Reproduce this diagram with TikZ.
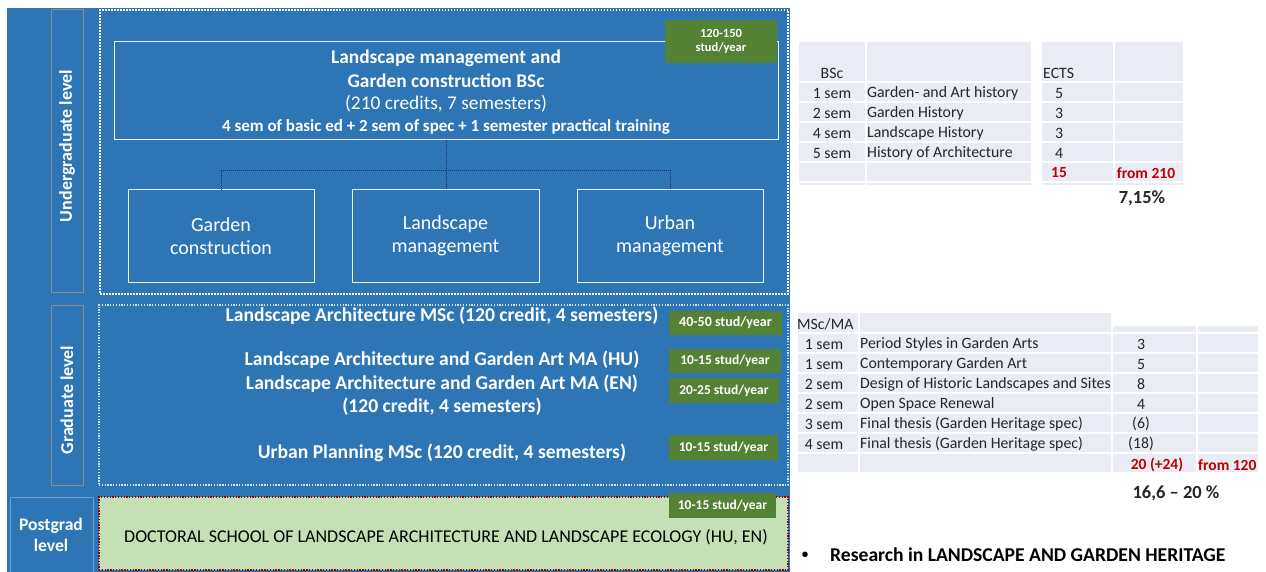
\documentclass[tikz,border=0pt]{standalone}
\usepackage{fontspec}
\setmainfont{Carlito}
\usetikzlibrary{fit}
\definecolor{bgblue}{RGB}{46,117,182}
\definecolor{taggreen}{RGB}{84,130,53}
\definecolor{docgreen}{RGB}{197,224,180}
\definecolor{docred}{RGB}{192,0,0}
\definecolor{cellfill}{RGB}{233,236,244}
\definecolor{tabtext}{RGB}{38,38,38}
\definecolor{redtext}{RGB}{192,0,0}
\definecolor{lvlgray}{RGB}{140,140,140}
\definecolor{linkblue}{RGB}{31,45,80}
\newcommand{\fs}[1]{\fontsize{#1}{#1}\selectfont}
\tikzset{
  area/.style={fit={#1}, inner sep=0pt},
  lvlbox/.style={draw=lvlgray, line width=0.8pt},
  ugframe/.style={draw=white, line width=2pt, dash pattern=on 1.5pt off 1.5pt},
  gframe/.style={draw=white!80!bgblue, line width=1.5pt, dash pattern=on 1.3pt off 1.5pt},
  dframe/.style={fill=docgreen, draw=docred!80!black, line width=1.3pt, dash pattern=on 1.3pt off 1.5pt},
  whitebox/.style={draw=white!90!bgblue, line width=1pt},
  tag/.style={fill=taggreen, text=white, inner sep=0pt, align=center},
  lvltext/.style={text=white, font=\bfseries\fs{18}, inner sep=0pt},
  prog/.style={text=white, font=\bfseries\fs{19.6}, inner sep=0pt},
  subtext/.style={text=white, font=\fs{20}, align=center, inner sep=0pt},
  link/.style={draw=linkblue, line width=0.8pt, dash pattern=on 1pt off 1pt},
  tab/.style={text=tabtext, font=\fs{15.8}, inner sep=0pt},
  tabred/.style={text=redtext, font=\bfseries\fs{15.5}, inner sep=0pt},
}
\begin{document}
\begin{tikzpicture}[x=1pt,y=-1pt]
\useasboundingbox (0,0) rectangle (1266,572);
\fill[white] (0,0) rectangle (1266,572);

% blue panel holding the three levels
\node[area={(7,8) (790,572)}, fill=bgblue] (panel) {};

% level labels
\node[area={(51,9) (83,292)}, lvlbox] (uglbl) {};
\node[lvltext, rotate=90] (ugtext) at (67,146) {Undergraduate level};
\node[area={(51,305) (83,485)}, lvlbox] (glbl) {};
\node[lvltext, rotate=90] (gtext) at (67,400) {Graduate level};
\node[area={(10,497) (93,572)}, draw=white!30!bgblue, line width=0.8pt] (pglbl) {};
\node[lvltext, font=\bfseries\fs{17.6}, align=center] (pgtext) at (51,535) {Postgrad\\[3pt]level};

% undergraduate level
\node[area={(100,10) (788,294)}, ugframe] (ugframe) {};
\node[area={(114,42) (778,140)}, whitebox] (bsc) {};
\node[prog, font=\bfseries\fs{19.4}] (bsc1) at (446,58) {Landscape management and};
\node[prog, font=\bfseries\fs{19.4}] (bsc2) at (446,81) {Garden construction BSc};
\node[prog, font=\fs{19.4}] (bsc3) at (446,104) {(210 credits, 7 semesters)};
\node[prog, font=\bfseries\fs{17}] (bsc4) at (446,127) {4 sem of basic ed + 2 sem of spec + 1 semester practical training};
\node[tag, minimum width=112pt, minimum height=43pt, font=\bfseries\fs{12.5}] (tagbsc) at (721,41.5) {120-150\\[2pt]stud/year};

\node[area={(128,190) (314,282)}, whitebox] (gc) {};
\node[area={(352,190) (539,282)}, whitebox] (lm) {};
\node[area={(577,190) (763,282)}, whitebox] (um) {};
\node[subtext] at (gc) {Garden\\[3pt]construction};
\node[subtext] at (lm) {Landscape\\[3pt]management};
\node[subtext] at (um) {Urban\\[3pt]management};

\coordinate (split) at (446,170);
\draw[link] (bsc.south) -- (split);
\draw[link] (split) -| (gc.north);
\draw[link] (split) -| (um.north);
\draw[link] (split) -- (split |- lm.north);

% graduate level
\node[area={(99,305) (788,485)}, gframe] (gframe) {};
\node[prog] (ma1) at (442,316) {Landscape Architecture MSc (120 credit, 4 semesters)};
\node[prog] (ma2) at (442,360) {Landscape Architecture and Garden Art MA (HU)};
\node[prog] (ma3) at (442,384) {Landscape Architecture and Garden Art MA (EN)};
\node[prog] (ma4) at (442,407) {(120 credit, 4 semesters)};
\node[prog] (ma5) at (442,453) {Urban Planning MSc (120 credit, 4 semesters)};
\node[tag, minimum width=113pt, minimum height=24pt, font=\bfseries\fs{14}] (tag1) at (725.5,323) {40-50 stud/year};
\node[tag, minimum width=112pt, minimum height=24pt, font=\bfseries\fs{13.5}] (tag2) at (725,361) {10-15 stud/year};
\node[tag, minimum width=110pt, minimum height=25pt, font=\bfseries\fs{13.5}] (tag3) at (724,390.5) {20-25 stud/year};
\node[tag, minimum width=109pt, minimum height=25pt, font=\bfseries\fs{13.5}] (tag4) at (723.5,447.5) {10-15 stud/year};

% postgraduate level
\node[area={(99,497) (788,570)}, dframe] (doc) {};
\node[text=black, font=\fs{18}, inner sep=0pt] (doctext) at (446,537) {DOCTORAL SCHOOL OF LANDSCAPE ARCHITECTURE AND LANDSCAPE ECOLOGY (HU, EN)};
\node[tag, minimum width=107pt, minimum height=25pt, font=\bfseries\fs{13.5}] (tag5) at (722.5,505.5) {10-15 stud/year};

% BSc history subjects table
\foreach \ya/\yb in {41/82,82/102,102/122,122/142,142/162,162/182,182/186}{
  \foreach \xa/\xb in {798/866,866/1032,1041/1114,1114/1184}{
    \fill[cellfill] (\xa+1,\ya+1) rectangle (\xb-1,\yb-1);
  }
}
\node[tab] at (832,73) {BSc};
\node[tab, anchor=west] at (1043,73) {ECTS};
\foreach \y/\s/\t/\n in {93/1 sem/Garden- and Art history/5, 113/2 sem/Garden History/3, 133/4 sem/Landscape History/3, 153/5 sem/History of Architecture/4}{
  \node[tab] at (832,\y) {\s};
  \node[tab, anchor=west] at (867,\y) {\t};
  \node[tab] at (1059,\y) {\n};
}
\node[tabred] at (1059,173) {15};
\node[tabred] at (1146,173) {from 210};
\node[text=tabtext, font=\bfseries\fs{18.5}, inner sep=0pt] at (1142,198) {7,15\%};

% MSc/MA history subjects table
\foreach \xa/\xb in {797/859,859/1112}{
  \fill[cellfill] (\xa+1,313) rectangle (\xb-1,332);
}
\foreach \xa/\xb in {1112/1197,1197/1259}{
  \fill[cellfill] (\xa+1,326) rectangle (\xb-1,332);
}
\foreach \ya in {333,353,...,453}{
  \foreach \xa/\xb in {797/859,859/1112,1112/1197,1197/1259}{
    \fill[cellfill] (\xa+1,\ya+1) rectangle (\xb-1,\ya+19);
  }
}
\node[tab, anchor=west] at (797,324) {MSc/MA};
\foreach \y/\s/\t/\n in {344/1 sem/Period Styles in Garden Arts/3, 364/1 sem/Contemporary Garden Art/5, 384/2 sem/Design of Historic Landscapes and Sites/8, 404/2 sem/Open Space Renewal/4, 424/3 sem/Final thesis (Garden Heritage spec)/(6), 444/4 sem/Final thesis (Garden Heritage spec)/(18)}{
  \node[tab] at (824,\y) {\s};
  \node[tab, anchor=west] at (860,\y) {\t};
  \node[tab] at (1141,\y) {\n};
}
\node[tabred] at (1157,465) {20 (+24)};
\node[tabred, anchor=west] at (1198,465) {from 120};
\node[text=tabtext, font=\bfseries\fs{18.5}, inner sep=0pt] at (1176,493) {16,6 -- 20 \%};

\node[text=black, font=\bfseries\fs{13}, inner sep=0pt] (bullet) at (805,555) {\textbullet};
\node[text=black, font=\bfseries\fs{19.6}, inner sep=0pt, anchor=west] (research) at (830,555) {Research in LANDSCAPE AND GARDEN HERITAGE};
\end{tikzpicture}
\end{document}
